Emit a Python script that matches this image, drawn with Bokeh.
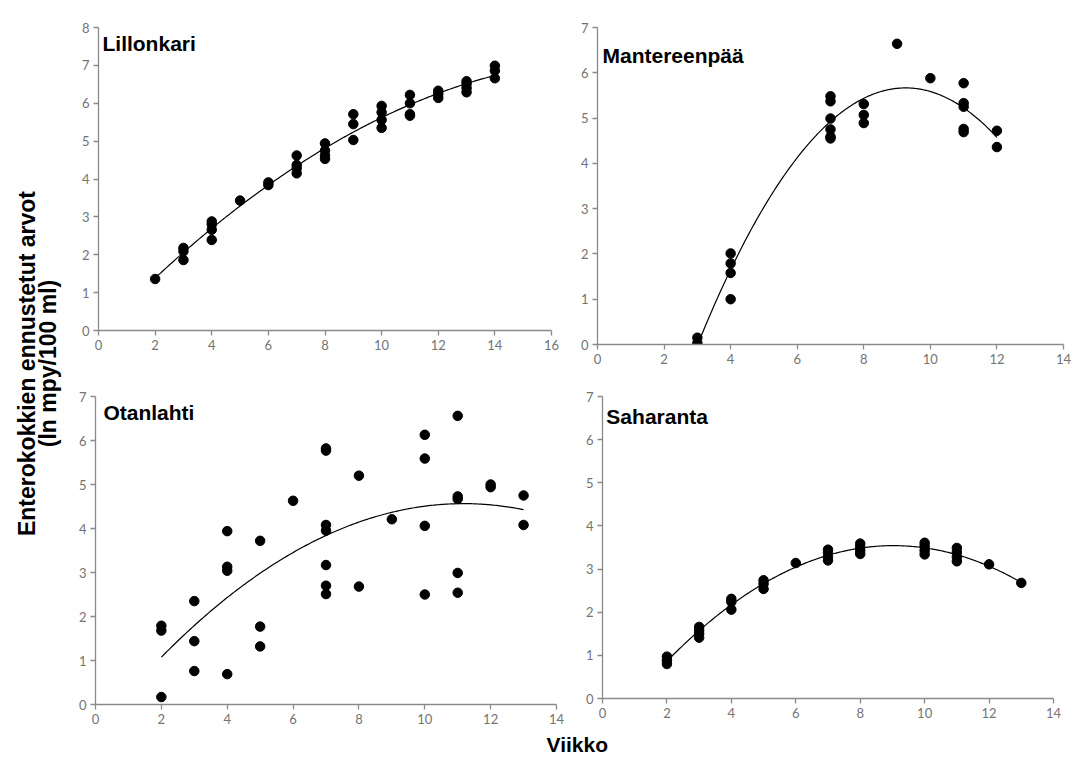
import numpy as np
from bokeh.plotting import figure
from bokeh.layouts import row, column
from bokeh.models import Range1d, FixedTicker, Label
from bokeh.core.properties import value
from bokeh.embed import file_html
from bokeh.resources import INLINE

# ---------------- data ----------------
lil_x = [2, 3, 3, 3, 4, 4, 4, 4, 5, 6, 6, 7, 7, 7, 7, 8, 8, 8, 8, 9, 9, 9,
         10, 10, 10, 10, 11, 11, 11, 11, 12, 12, 12, 13, 13, 13, 13, 14, 14, 14]
lil_y = [1.36, 2.18, 2.09, 1.86, 2.88, 2.80, 2.66, 2.39, 3.43, 3.91, 3.84,
         4.62, 4.37, 4.28, 4.15, 4.94, 4.75, 4.62, 4.53, 5.71, 5.45, 5.03,
         5.93, 5.76, 5.56, 5.35, 6.22, 6.00, 5.71, 5.67, 6.33, 6.24, 6.14,
         6.58, 6.51, 6.40, 6.29, 6.99, 6.86, 6.66]

man_x = [3, 3, 4, 4, 4, 4, 7, 7, 7, 7, 7, 7, 8, 8, 8, 9, 10,
         11, 11, 11, 11, 11, 12, 12]
man_y = [0.15, 0.03, 2.01, 1.79, 1.58, 1.00, 5.48, 5.37, 4.99, 4.75, 4.59, 4.55,
         5.31, 5.07, 4.89, 6.64, 5.88, 5.77, 5.33, 5.25, 4.76, 4.69, 4.72, 4.36]

ota_x = [2, 2, 2, 3, 3, 3, 4, 4, 4, 4, 5, 5, 5, 6, 7, 7, 7, 7, 7, 7, 7,
         8, 8, 9, 10, 10, 10, 10, 11, 11, 11, 11, 11, 12, 12, 13, 13]
ota_y = [1.79, 1.68, 0.17, 2.35, 1.44, 0.76, 3.94, 3.13, 3.04, 0.69,
         3.72, 1.77, 1.32, 4.63, 5.82, 5.77, 4.08, 3.95, 3.17, 2.70, 2.51,
         5.20, 2.68, 4.21, 6.13, 5.59, 4.06, 2.50, 6.56, 4.73, 4.67, 2.99, 2.54,
         5.00, 4.94, 4.75, 4.08]

sah_x = [2, 2, 2, 3, 3, 3, 3, 4, 4, 4, 5, 5, 5, 6, 7, 7, 7, 7, 8, 8, 8, 8,
         10, 10, 10, 10, 11, 11, 11, 11, 12, 13]
sah_y = [0.97, 0.88, 0.80, 1.66, 1.58, 1.50, 1.41, 2.31, 2.24, 2.06,
         2.74, 2.66, 2.54, 3.14, 3.45, 3.38, 3.28, 3.20, 3.59, 3.51, 3.43, 3.35,
         3.61, 3.53, 3.43, 3.34, 3.49, 3.39, 3.28, 3.18, 3.11, 2.68]

titles = ["Lillonkari", "Mantereenpää", "Otanlahti", "Saharanta"]
x_max = [16, 14, 14, 14]
y_max = [8, 7, 7, 7]
y_label_lines = ["Enterokokkien ennustetut arvot", "(ln mpy/100 ml)"]
x_label = "Viikko"

TICK_FONT = "Lato"
BOLD_FONT = "Liberation Sans"
AXIS_COL = "#8a8a8a"
TICK_COL = "#737373"


def panel(xs, ys, title, xm, ym, fw, fh, bl, br, bt, bb, tx, ty):
    p = figure(frame_width=fw, frame_height=fh,
               min_border_left=bl, min_border_right=br,
               min_border_top=bt, min_border_bottom=bb,
               x_range=Range1d(0, xm), y_range=Range1d(0, ym),
               output_backend="svg", toolbar_location=None,
               background_fill_color="white", border_fill_color="white")
    p.outline_line_color = None
    p.grid.visible = False
    for ax in (p.xaxis[0], p.yaxis[0]):
        ax.axis_line_color = AXIS_COL
        ax.axis_line_width = 1.3
        ax.major_tick_line_color = AXIS_COL
        ax.major_tick_line_width = 1.3
        ax.major_tick_out = 5
        ax.major_tick_in = 0
        ax.minor_tick_line_color = None
        ax.major_label_text_color = TICK_COL
        ax.major_label_text_font = TICK_FONT
        ax.major_label_text_font_size = "13px"
        ax.major_label_standoff = 4
    p.xaxis[0].ticker = FixedTicker(ticks=list(range(0, xm + 1, 2)))
    p.yaxis[0].ticker = FixedTicker(ticks=list(range(0, ym + 1)))

    xa = np.array(xs, dtype=float)
    ya = np.array(ys, dtype=float)
    coef = np.polyfit(xa, ya, 2)
    xx = np.linspace(xa.min(), xa.max(), 200)
    p.line(xx, np.polyval(coef, xx), line_color="black", line_width=1.2)
    p.scatter(xs, ys, size=9.5, fill_color="black", line_color="black")

    p.add_layout(Label(x=tx, y=ty, text=title, text_font=BOLD_FONT,
                       text_font_style="bold", text_font_size="21px",
                       text_color="black", text_baseline="alphabetic"))
    return p


pA = panel(lil_x, lil_y, titles[0], x_max[0], y_max[0],
           453, 303, 28, 24, 27, 40, 0.14, 7.58)
pB = panel(man_x, man_y, titles[1], x_max[1], y_max[1],
           466, 317, 22, 13, 14, 39, 0.15, 6.39)
pC = panel(ota_x, ota_y, titles[2], x_max[2], y_max[2],
           461, 308, 25, 19, 21, 31, 0.24, 6.64)
pD = panel(sah_x, sah_y, titles[3], x_max[3], y_max[3],
           451, 302, 27, 23, 26, 32, 0.12, 6.54)

# y label strip
ylab = figure(width=70, height=730, x_range=Range1d(0, 70), y_range=Range1d(730, 0),
              output_backend="svg", toolbar_location=None, min_border=0)
ylab.axis.visible = False
ylab.grid.visible = False
ylab.outline_line_color = None
ylab.text(x=[26, 47], y=[363, 363], text=y_label_lines, angle=np.pi / 2,
          text_align="center", text_baseline="alphabetic",
          text_font=value(BOLD_FONT), text_font_style="bold",
          text_font_size="23px", text_color="black")

# x label strip
xlab = figure(width=1076, height=30, x_range=Range1d(0, 1076), y_range=Range1d(30, 0),
              output_backend="svg", toolbar_location=None, min_border=0)
xlab.axis.visible = False
xlab.grid.visible = False
xlab.outline_line_color = None
xlab.text(x=[546], y=[14], text=[x_label], text_align="left",
          text_baseline="middle", text_font=value(BOLD_FONT),
          text_font_style="bold", text_font_size="21px", text_color="black")

layout = column(row(ylab, column(row(pA, pB), row(pC, pD))), xlab)

open("out.html", "w").write(file_html(layout, INLINE))
